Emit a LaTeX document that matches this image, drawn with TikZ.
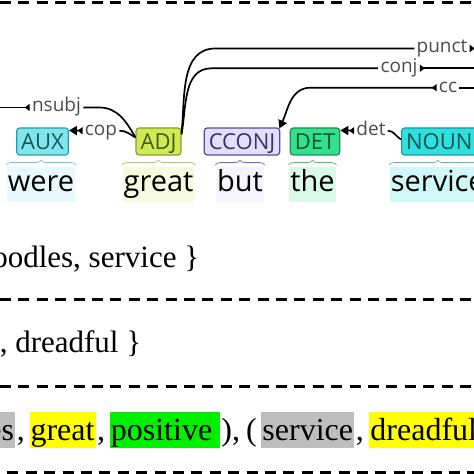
\documentclass[tikz,border=0pt]{standalone}
\usepackage{fontspec}
\setmainfont{Liberation Serif}
\newfontfamily\treefont{Open Sans}
\usepackage{tikz}
\usetikzlibrary{positioning, arrows.meta, decorations.pathreplacing}
\tikzset{every picture/.style={line width=1.7pt}}

\definecolor{auxfill}{HTML}{80E6EE}
\definecolor{auxline}{HTML}{2A9EA4}
\definecolor{adjfill}{HTML}{CDEB55}
\definecolor{adjline}{HTML}{8C9A2A}
\definecolor{ccfill}{HTML}{E2DFF8}
\definecolor{ccline}{HTML}{5A46A8}
\definecolor{detfill}{HTML}{33E08C}
\definecolor{detline}{HTML}{1E8C55}
\definecolor{nounfill}{HTML}{2EE0E0}
\definecolor{nounline}{HTML}{1E9696}
\definecolor{hlgray}{HTML}{BEBEBE}
\definecolor{hlyellow}{HTML}{FFFF00}
\definecolor{hlgreen}{HTML}{00F000}

\begin{document}
\begin{tikzpicture}[x=1pt,y=1pt,
    tag/.style={draw, rounded corners=3pt, line width=1.2pt, minimum height=27pt, inner xsep=4.5pt, inner ysep=0pt, text height=15.5pt, text depth=0pt, font=\treefont\fontsize{22}{22}\selectfont},
    word/.style={anchor=base, inner xsep=1pt, inner ysep=3pt, text height=22pt, text depth=7pt, font=\treefont\fontsize{29}{29}\selectfont},
    lbl/.style={inner xsep=1.5pt, inner ysep=0pt, text height=13pt, text depth=4pt, text=black!70, font=\treefont\fontsize{19}{19}\selectfont},
    brc/.style={decorate, decoration={brace, amplitude=5pt}, line width=0.8pt},
    ends/.style={{Triangle[reversed,length=5pt,width=7pt]}-{Triangle[length=8pt,width=9pt]}},
    lead/.style={{Triangle[reversed,length=5pt,width=7pt]}-},
    hl/.style={inner xsep=1pt, inner ysep=0pt, text height=29pt, text depth=7pt, font=\fontsize{32}{32}\selectfont},
    plain/.style={hl, inner xsep=0pt},
    txt/.style={inner sep=0pt, font=\fontsize{31}{31}\selectfont},
    cut/.style={dash pattern=on 11pt off 7.4pt, line width=3pt}]
    \useasboundingbox (0,0) rectangle (474,474);
    \clip (0,0) rectangle (474,474);

    % separators
    \draw[cut] (0,471.7) -- (474,471.7);
    \draw[cut] (0,174.5) -- (474,174.5);
    \draw[cut] (0,87) -- (474,87);
    \draw[cut, dash phase=11pt] (0,1.5) -- (474,1.5);

    % tags
    \node[tag, fill=auxfill, draw=auxline, text=auxline!55!black] (aux) at (42.5,332.5) {AUX};
    \node[tag, fill=adjfill, draw=adjline, text=adjline!55!black] (adj) at (158.5,332.5) {ADJ};
    \node[tag, fill=ccfill, draw=ccline, text=ccline!70!black] (cconj) at (242,332.5) {CCONJ};
    \node[tag, fill=detfill, draw=detline, text=detline!60!black] (det) at (315,332.5) {DET};
    \node[tag, fill=nounfill, draw=nounline, text=nounline!55!black, anchor=west] (noun) at (401,332.5) {NOUN};

    % words
    \node[word, fill=auxfill!18] (were) at (41,282) {were};
    \node[word, fill=adjfill!18] (great) at (158.5,282) {great};
    \node[word, fill=ccfill!30] (but) at (240,282) {but};
    \node[word, fill=detfill!18] (the) at (312.5,282) {the};
    \node[word, fill=nounfill!22, anchor=base west] (service) at (389,282) {service};

    \draw[brc, draw=auxline!60!white] ([yshift=1pt]were.north west) -- ([yshift=1pt]were.north east);
    \draw[brc, draw=adjline!60!white] ([yshift=1pt]great.north west) -- ([yshift=1pt]great.north east);
    \draw[brc, draw=ccline!80!white] ([yshift=1pt]but.north west) -- ([yshift=1pt]but.north east);
    \draw[brc, draw=detline!70!white] ([yshift=1pt]the.north west) -- ([yshift=1pt]the.north east);
    \draw[brc, draw=nounline!70!white] ([yshift=1pt]service.north west) -- ([yshift=1pt]service.north east);

    % arc labels
    \node[lbl] (lpunct) at (442,425.5) {punct};
    \node[lbl] (lconj) at (399,405.7) {conj};
    \node[lbl] (lcc) at (448,386.3) {cc};
    \node[lbl] (lnsubj) at (56.5,366.5) {nsubj};
    \node[lbl] (lcop) at (101,343.3) {cop};
    \node[lbl] (ldet) at (371,343.3) {det};
    \coordinate (punctend) at (480,425.5);
    \coordinate (conjend) at (480,405.7);
    \coordinate (ccend) at (480,386.3);
    \coordinate (nsubjend) at (-6,366.5);

    % arcs
    \draw ([yshift=8pt]adj.east) to[out=84,in=180] ++(34,85) -- (lpunct.west);
    \draw[lead] (lpunct.east) -- (punctend);
    \draw ([yshift=7pt]adj.east) to[out=80,in=180] ++(30,66.2) -- (lconj.west);
    \draw[lead] (lconj.east) -- (conjend);
    \draw[ends] (lcc.west) -- ++(-126,0) to[out=180,in=65] ([xshift=-1pt,yshift=-1pt]cconj.north east);
    \draw (lcc.east) -- (ccend);
    \draw[lead] (lnsubj.west) -- (nsubjend);
    \draw (lnsubj.east) -- ++(16,0) to[out=0,in=120] ([yshift=4pt]adj.west);
    \draw[ends] (lcop.west) -- ([yshift=-3pt]aux.north east);
    \draw (lcop.east) to[out=0,in=150] ([yshift=4pt]adj.west);
    \draw[ends] (ldet.west) -- ([yshift=-3pt]det.north east);
    \draw (ldet.east) to[out=0,in=150] ([yshift=2pt]noun.west);

    % sets
    \node[txt, anchor=base east] (aspects) at (200,206) {\{ noodles, service \}};
    \node[txt, anchor=base east] (opinions) at (142,121) {\{ great, dreadful \}};

    % triplets
    \node[hl, fill=hlgray, anchor=east] (noodles) at (16,44) {noodles};
    \node[plain, right=0pt of noodles] (c1) {,\hspace*{3pt}};
    \node[hl, fill=hlyellow, right=0pt of c1] (w1) {great};
    \node[plain, right=0pt of w1] (c2) {,\hspace*{3pt}};
    \node[hl, fill=hlgreen, right=0pt of c2] (pos) {positive\hspace*{6.5pt}};
    \node[plain, right=0pt of pos] (c3) {),\hspace*{6pt}(\hspace*{3pt}};
    \node[hl, fill=hlgray, right=0pt of c3] (w2) {service};
    \node[plain, right=0pt of w2] (c4) {,\hspace*{4pt}};
    \node[hl, fill=hlyellow, right=0pt of c4] (w3) {dreadful};
\end{tikzpicture}
\end{document}
